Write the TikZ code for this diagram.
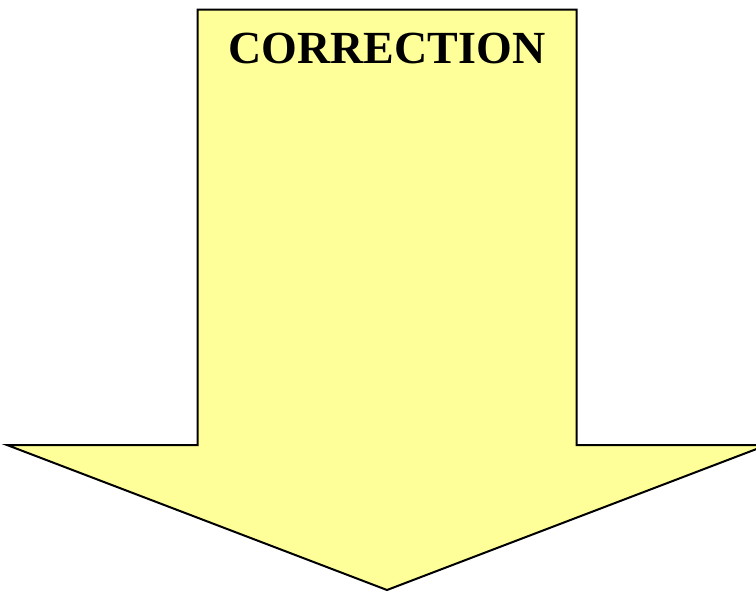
\documentclass[tikz,border=0pt]{standalone}
\usepackage{fontspec}
\setmainfont{Liberation Serif}
\definecolor{arrowfill}{HTML}{FFFF99}
\tikzset{
  bigarrow/.style={fill=arrowfill, draw=black, line width=2pt, line join=miter},
  label/.style={font=\bfseries\fontsize{46}{50}\selectfont, inner sep=0pt, anchor=base}
}
\begin{document}
\begin{tikzpicture}[x=1pt,y=-1pt]
\useasboundingbox (0,0) rectangle (756,592);
\clip (0,0) rectangle (756,592);
\draw[bigarrow] (197.5,9.5) -- (576.5,9.5) -- (576.5,445) -- (767,445) -- (387,590) -- (7,445) -- (197.5,445) -- cycle;
\node[label] (title) at (387,63) {CORRECTION};
\end{tikzpicture}
\end{document}
